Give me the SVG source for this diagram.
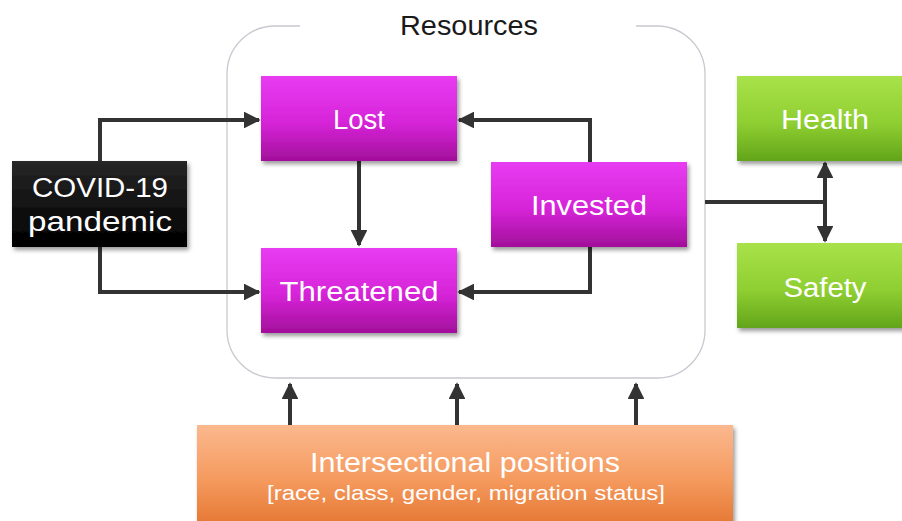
<svg xmlns="http://www.w3.org/2000/svg" width="902" height="521" viewBox="0 0 902 521">
  <defs>
    <linearGradient id="gMagenta" x1="0" y1="0" x2="0" y2="1">
      <stop offset="0" stop-color="#e83cf2"/>
      <stop offset="0.55" stop-color="#d624d8"/>
      <stop offset="1" stop-color="#a20f9a"/>
    </linearGradient>
    <linearGradient id="gGreen" x1="0" y1="0" x2="0" y2="1">
      <stop offset="0" stop-color="#a8e24a"/>
      <stop offset="0.55" stop-color="#8fcf32"/>
      <stop offset="1" stop-color="#62a51a"/>
    </linearGradient>
    <linearGradient id="gBlack" x1="0" y1="0" x2="0" y2="1">
      <stop offset="0" stop-color="#262626"/>
      <stop offset="1" stop-color="#000"/>
    </linearGradient>
    <linearGradient id="gOrange" x1="0" y1="0" x2="0" y2="1">
      <stop offset="0" stop-color="#fbb88e"/>
      <stop offset="0.5" stop-color="#f59a5e"/>
      <stop offset="1" stop-color="#e2702a"/>
    </linearGradient>
    <filter id="shadow" x="-10%" y="-10%" width="125%" height="130%">
      <feDropShadow dx="2" dy="3" stdDeviation="2" flood-color="#000" flood-opacity="0.4"/>
    </filter>
    <marker id="arrow" viewBox="0 0 10 10" refX="9" refY="5" markerWidth="4.2" markerHeight="4.2" markerUnits="strokeWidth" orient="auto-start-reverse">
      <path d="M0,0 L10,5 L0,10 z" fill="#333"/>
    </marker>
    <style>
      .lbl { font-family: "Liberation Sans", Arial, sans-serif; fill: #fff; text-anchor: middle; dominant-baseline: central; }
      .big { font-size: 27px; }
      .conn { fill: none; stroke: #333; stroke-width: 4; }
      .frame { fill: none; stroke: #c8c8d0; stroke-width: 1.3; }
    </style>
  </defs>

  <!-- Resources frame: rounded outline with an opening for its title -->
  <g id="resources">
    <path class="frame" d="M300,26 L275,26 A48,48 0 0 0 227,74 L227,330 A48,48 0 0 0 275,378 L657,378 A48,48 0 0 0 705,330 L705,74 A48,48 0 0 0 657,26 L636,26"/>
    <text x="469" y="26" font-family="Liberation Sans, Arial, sans-serif" font-size="27" fill="#1a1a1a" text-anchor="middle" dominant-baseline="central" textLength="138" lengthAdjust="spacingAndGlyphs">Resources</text>
  </g>

  <!-- Connectors -->
  <g id="connectors">
    <path class="conn" d="M100,161 L100,120 L259,120" marker-end="url(#arrow)"/>
    <path class="conn" d="M100,247 L100,292 L259,292" marker-end="url(#arrow)"/>
    <path class="conn" d="M359,161 L359,245" marker-end="url(#arrow)"/>
    <path class="conn" d="M590,162 L590,120 L459,120" marker-end="url(#arrow)"/>
    <path class="conn" d="M590,247 L590,292 L459,292" marker-end="url(#arrow)"/>
    <path class="conn" d="M705,202 L825,202"/>
    <path class="conn" d="M825,202 L825,163" marker-end="url(#arrow)"/>
    <path class="conn" d="M825,202 L825,241" marker-end="url(#arrow)"/>
    <path class="conn" d="M290,425 L290,384" marker-end="url(#arrow)"/>
    <path class="conn" d="M457,425 L457,384" marker-end="url(#arrow)"/>
    <path class="conn" d="M636,425 L636,384" marker-end="url(#arrow)"/>
  </g>

  <g id="covid">
    <rect x="12" y="161" width="175" height="86" fill="url(#gBlack)" filter="url(#shadow)"/>
    <text class="lbl big" x="100" y="188" textLength="136" lengthAdjust="spacingAndGlyphs">COVID-19</text>
    <text class="lbl big" x="100" y="222" textLength="144" lengthAdjust="spacingAndGlyphs">pandemic</text>
  </g>

  <g id="lost">
    <rect x="261" y="76" width="196" height="85" fill="url(#gMagenta)" filter="url(#shadow)"/>
    <text class="lbl big" x="359" y="120" textLength="52" lengthAdjust="spacingAndGlyphs">Lost</text>
  </g>

  <g id="threatened">
    <rect x="261" y="248" width="196" height="85" fill="url(#gMagenta)" filter="url(#shadow)"/>
    <text class="lbl big" x="359" y="292" textLength="159" lengthAdjust="spacingAndGlyphs">Threatened</text>
  </g>

  <g id="invested">
    <rect x="491" y="162" width="196" height="85" fill="url(#gMagenta)" filter="url(#shadow)"/>
    <text class="lbl big" x="589" y="206" textLength="116" lengthAdjust="spacingAndGlyphs">Invested</text>
  </g>

  <g id="health">
    <rect x="737" y="76" width="175" height="85" fill="url(#gGreen)" filter="url(#shadow)"/>
    <text class="lbl big" x="825" y="120" textLength="88" lengthAdjust="spacingAndGlyphs">Health</text>
  </g>

  <g id="safety">
    <rect x="737" y="243" width="175" height="85" fill="url(#gGreen)" filter="url(#shadow)"/>
    <text class="lbl big" x="825" y="288" textLength="83" lengthAdjust="spacingAndGlyphs">Safety</text>
  </g>

  <g id="intersectional">
    <rect x="197" y="425" width="536" height="110" fill="url(#gOrange)" filter="url(#shadow)"/>
    <text class="lbl big" x="465" y="463" textLength="310" lengthAdjust="spacingAndGlyphs">Intersectional positions</text>
    <text class="lbl" x="466" y="492" font-size="21" textLength="398" lengthAdjust="spacingAndGlyphs">[race, class, gender, migration status]</text>
  </g>
</svg>
